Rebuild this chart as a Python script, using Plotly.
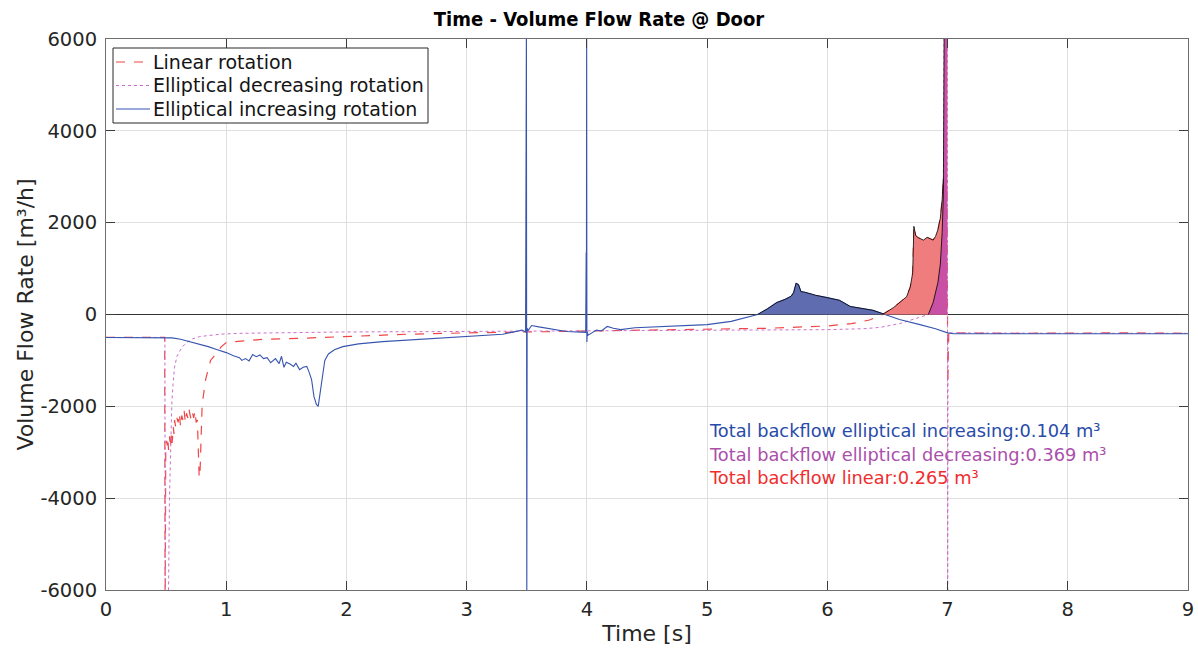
import numpy as np
import plotly.graph_objects as go

# ---------------- data ----------------
t_inc = [0.00, 0.30, 0.55, 0.62, 0.70, 0.78, 0.85, 0.92, 1.00, 1.06,
         1.11, 1.13, 1.16, 1.19, 1.22, 1.25, 1.28, 1.31, 1.34, 1.37,
         1.39, 1.41, 1.44, 1.46, 1.48, 1.50, 1.53, 1.56, 1.58, 1.61,
         1.64, 1.67, 1.69, 1.71, 1.73, 1.75, 1.765, 1.78, 1.80, 1.82,
         1.85, 1.90, 1.97, 2.10, 2.30, 2.60, 3.00, 3.30, 3.46, 3.49,
         3.497, 3.500, 3.503, 3.51, 3.54, 3.60, 3.83, 3.99, 3.994, 3.996,
         3.998, 4.000, 4.003, 4.01, 4.04, 4.08, 4.12, 4.17, 4.22, 4.28,
         4.40, 4.60, 4.80, 5.00, 5.20, 5.32, 5.42, 5.50, 5.58, 5.65,
         5.70, 5.72, 5.74, 5.76, 5.78, 5.82, 5.90, 6.00, 6.10, 6.19,
         6.30, 6.38, 6.48, 6.60, 6.77, 6.90, 7.00, 7.05, 7.50, 8.00,
         8.50, 9.00]
v_inc = [-500, -500, -510, -540, -590, -640, -700, -760, -830, -900,
         -940, -1000, -960, -1010, -870, -920, -880, -960, -940, -1050,
         -1000, -960, -1070, -910, -1150, -1040, -1080, -1130, -1060, -1200,
         -1150, -1130, -1260, -1420, -1790, -1960, -2000, -1700, -1300, -1000,
         -860, -770, -700, -640, -590, -540, -470, -430, -340, -380,
         6500, -6500, -300, -350, -240, -270, -370, -390, 1350, -350,
         6500, -600, -380, -450, -400, -340, -360, -260, -300, -330,
         -290, -270, -240, -220, -150, -60, 0, 120, 260, 330,
         400, 480, 680, 650, 500, 480, 420, 370, 310, 175,
         130, 90, 0, -110, -220, -310, -400, -420, -420, -420,
         -420, -420]

t_lin = [0.00, 0.30, 0.488, 0.492, 0.497, 0.505, 0.51, 0.515, 0.52, 0.525,
         0.53, 0.535, 0.54, 0.545, 0.55, 0.56, 0.565, 0.57, 0.58, 0.59,
         0.60, 0.61, 0.62, 0.63, 0.64, 0.65, 0.66, 0.67, 0.68, 0.69,
         0.70, 0.71, 0.72, 0.73, 0.74, 0.75, 0.76, 0.768, 0.775, 0.782,
         0.79, 0.80, 0.83, 0.87, 0.91, 0.96, 1.00, 1.12, 1.30, 1.60,
         2.00, 2.50, 3.00, 3.50, 4.00, 4.50, 5.00, 5.50, 5.80, 6.00,
         6.20, 6.35, 6.46, 6.55, 6.62, 6.66, 6.69, 6.71, 6.72, 6.735,
         6.75, 6.77, 6.80, 6.83, 6.86, 6.88, 6.90, 6.92, 6.94, 6.955,
         6.965, 6.975, 6.985, 6.995, 7.002, 7.01, 7.50, 8.00, 8.50, 9.00]
v_lin = [-500, -500, -500, -6500, -2900, -2750, -2850, -2700, -2950, -2800,
         -2650, -2900, -2750, -2600, -2800, -2450, -2600, -2300, -2450, -2250,
         -2350, -2150, -2450, -2200, -2300, -2100, -2350, -2150, -2250, -2050,
         -2200, -2300, -2150, -2250, -2100, -2350, -2300, -2900, -3550, -3450,
         -2500, -1950, -1400, -1000, -870, -700, -610, -580, -540, -520,
         -480, -430, -400, -380, -360, -340, -330, -300, -270, -250,
         -200, -120, 0, 150, 300, 390, 600, 910, 1920, 1720,
         1680, 1650, 1620, 1680, 1640, 1620, 1700, 1850, 2100, 2500,
         2950, 2700, 3000, 2900, -1500, -400, -410, -400, -400, -410]

t_dec = [0.00, 0.30, 0.49, 0.493, 0.518, 0.528, 0.538, 0.548, 0.558, 0.57,
         0.59, 0.63, 0.67, 0.72, 0.78, 0.86, 0.95, 1.10, 1.30, 1.60,
         2.00, 2.50, 3.00, 3.50, 4.00, 4.50, 5.00, 5.50, 6.00, 6.30,
         6.44, 6.60, 6.77, 6.84, 6.88, 6.92, 6.94, 6.955, 6.965, 6.972,
         6.998, 7.001, 7.004, 7.02, 7.50, 8.00, 8.50, 9.00]
v_dec = [-500, -500, -500, -6500, -6500, -4000, -2600, -1900, -1500, -1150,
         -910, -720, -610, -530, -480, -450, -430, -410, -400, -390,
         -380, -375, -370, -365, -360, -360, -355, -350, -330, -310,
         -280, -200, -70, 0, 260, 700, 1100, 1790, 2600, 6500,
         6500, -6500, -420, -400, -410, -410, -410, -410]

series_names = ["Linear rotation", "Elliptical decreasing rotation",
                "Elliptical increasing rotation"]
backflow_labels = ["Total backflow elliptical increasing:0.104 m³",
                   "Total backflow elliptical decreasing:0.369 m³",
                   "Total backflow linear:0.265 m³"]
backflow_y = [-2520, -3040, -3550]
y_tickvals = [-6000, -4000, -2000, 0, 2000, 4000, 6000]
y_ticktext = ["-6000", "-4000", "-2000", "0", "2000", "4000", "6000"]
x_tickvals = [0, 1, 2, 3, 4, 5, 6, 7, 8, 9]

# ---------------- styles ----------------
W, H = 1198, 650
ML, MR, MT, MB = 106, 10, 39, 60
PW, PH = W - ML - MR, H - MT - MB

def px_x(px):
    return (px - ML) / PW

def px_y(py):
    return 1 - (py - MT) / PH

c_lin = "rgb(240,70,70)"
c_dec = "rgb(205,110,205)"
c_inc = "rgb(55,85,175)"
f_inc = "rgb(96,108,176)"
f_lin = "rgb(240,125,125)"
f_dec = "rgb(200,80,165)"
txt_cols = ["rgb(40,75,170)", "rgb(170,80,170)", "rgb(240,45,45)"]
line_styles = [dict(color=c_lin, width=1.2, dash="dash"),
               dict(color=c_dec, width=1, dash="dot"),
               dict(color=c_inc, width=1.1)]

fig = go.Figure()

for t, v, nm, ls in [(t_lin, v_lin, series_names[0], line_styles[0]),
                     (t_dec, v_dec, series_names[1], line_styles[1]),
                     (t_inc, v_inc, series_names[2], line_styles[2])]:
    fig.add_trace(go.Scatter(x=t, y=v, mode="lines", name=nm, line=ls,
                             showlegend=False))

# backflow (positive) areas
def positive_part(t, v, tmin):
    t = np.asarray(t); v = np.asarray(v)
    m = (v >= 0) & (t >= tmin)
    return t[m], v[m]

for (t, v, tmin, fc) in [(t_inc, v_inc, 5.0, f_inc),
                         (t_lin, v_lin, 6.0, f_lin),
                         (t_dec, v_dec, 6.0, f_dec)]:
    tp, vp = positive_part(t, v, tmin)
    fig.add_trace(go.Scatter(x=tp, y=vp, mode="lines", fill="tozeroy",
                             fillcolor=fc, line=dict(color="black", width=0.8),
                             showlegend=False, hoverinfo="skip"))

for txt, yy, col in zip(backflow_labels, backflow_y, txt_cols):
    fig.add_annotation(x=4.995, y=yy, xref="x", yref="y", text=txt,
                       showarrow=False, xanchor="left", yanchor="middle",
                       font=dict(size=17.8, color=col))

# legend box (MATLAB style)
fig.add_shape(type="rect", xref="paper", yref="paper",
              x0=px_x(113), x1=px_x(428), y0=px_y(123), y1=px_y(48),
              line=dict(color="rgb(40,40,40)", width=1), fillcolor="white",
              layer="above")
leg_rows = [62, 85.5, 109]
for nm, ls, ry in zip(series_names, line_styles, leg_rows):
    fig.add_shape(type="line", xref="paper", yref="paper",
                  x0=px_x(116), x1=px_x(150), y0=px_y(ry), y1=px_y(ry),
                  line=ls, layer="above")
    fig.add_annotation(x=px_x(151), y=px_y(ry), xref="paper", yref="paper",
                       text=nm, showarrow=False, xanchor="left",
                       yanchor="middle",
                       font=dict(size=19, color="rgb(20,20,20)"))

axis_common = dict(showgrid=True, gridcolor="rgb(223,223,223)", gridwidth=1,
                   showline=True, linecolor="rgb(110,110,110)", linewidth=1,
                   mirror="ticks", ticks="inside", ticklen=9,
                   tickcolor="rgb(60,60,60)", automargin=False,
                   tickfont=dict(size=19.5, color="rgb(38,38,38)"))

fig.update_layout(
    width=W, height=H,
    margin=dict(l=ML, r=MR, t=MT, b=MB),
    paper_bgcolor="white", plot_bgcolor="white",
    font=dict(family="DejaVu Sans", color="rgb(38,38,38)"),
    title=dict(text="<b>Time - Volume Flow Rate @ Door</b>",
               x=0.5, xref="container", xanchor="center",
               y=1 - 19 / H, yanchor="middle",
               font=dict(size=20, color="black",
                         family="DejaVu Sans Condensed, DejaVu Sans")),
    showlegend=False,
)
fig.update_xaxes(range=[0, 9], tickvals=x_tickvals,
                 title=dict(text="Time [s]", font=dict(size=22), standoff=5),
                 zeroline=False, ticklabelstandoff=2, **axis_common)
fig.update_yaxes(range=[-6000, 6000], tickvals=y_tickvals, ticktext=y_ticktext,
                 title=dict(text="Volume Flow Rate [m³/h]", font=dict(size=22),
                            standoff=0),
                 zeroline=True, zerolinecolor="rgb(50,50,50)", zerolinewidth=1,
                 ticklabelstandoff=4, **axis_common)

fig.write_html("out.html")
